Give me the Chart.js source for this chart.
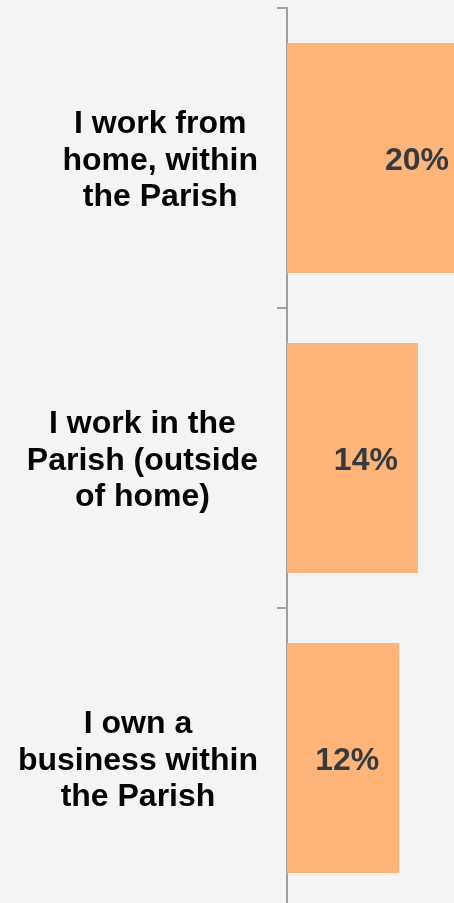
<!DOCTYPE html>
<html>
<head>
<meta charset="utf-8">
<script src="https://cdn.jsdelivr.net/npm/chart.js@4.4.1/dist/chart.umd.min.js"></script>
<style>
  html, body { margin: 0; padding: 0; background: #f4f4f4; overflow: hidden; }
  #wrap { width: 454px; height: 903px; overflow: hidden; }
</style>
</head>
<body>
<div id="wrap"><canvas id="myChart" width="474" height="910"></canvas></div>
<script>
const categories = [
  ['I work from', 'home, within', 'the Parish'],
  ['I work in the', 'Parish (outside', 'of home)'],
  ['I own a', 'business within', 'the Parish']
];
const values = [20, 14, 12];
const valueLabels = ['20%', '14%', '12%'];

const FONT = 'bold 32px "Liberation Sans", Arial, sans-serif';

// category labels: block right-aligned, lines centred in the block
const catLabels = {
  id: 'catLabels',
  afterDraw(chart) {
    const ctx = chart.ctx;
    const y = chart.scales.y;
    ctx.save();
    ctx.font = FONT;
    ctx.fillStyle = '#050505';
    ctx.textAlign = 'center';
    ctx.textBaseline = 'middle';
    const lh = 36.5;
    categories.forEach((lines, i) => {
      let widest = 0;
      lines.forEach(l => { widest = Math.max(widest, ctx.measureText(l).width); });
      const cx = 258 - widest / 2;
      const cy = y.getPixelForTick(i) + 3;
      lines.forEach((l, j) => {
        ctx.fillText(l, cx, cy + (j - (lines.length - 1) / 2) * lh);
      });
    });
    ctx.restore();
  }
};

const barLabels = {
  id: 'barLabels',
  afterDatasetsDraw(chart) {
    const ctx = chart.ctx;
    const meta = chart.getDatasetMeta(0);
    ctx.save();
    ctx.font = FONT;
    ctx.fillStyle = '#353a3f';
    ctx.textAlign = 'right';
    ctx.textBaseline = 'middle';
    meta.data.forEach((bar, i) => {
      // keep the label inside the visible window
      const x = Math.min(bar.x - 20, 449);
      ctx.fillText(valueLabels[i], x, bar.y + 3);
    });
    ctx.restore();
  }
};

new Chart(document.getElementById('myChart'), {
  type: 'bar',
  data: {
    labels: categories,
    datasets: [{
      data: values,
      backgroundColor: '#ffb47a',
      borderWidth: 0,
      categoryPercentage: 1,
      barPercentage: 0.767
    }]
  },
  options: {
    indexAxis: 'y',
    responsive: false,
    devicePixelRatio: 1,
    animation: false,
    layout: { padding: { top: 8, bottom: 2, left: 0, right: 0 } },
    plugins: { legend: { display: false }, tooltip: { enabled: false } },
    scales: {
      x: { display: false, min: 0, max: 20 },
      y: {
        afterFit(scale) { scale.width = 287; },
        ticks: { display: false },
        grid: {
          offset: true,
          drawOnChartArea: false,
          tickLength: 10,
          color: '#a0a0a0',
          lineWidth: 2
        },
        border: { color: '#a0a0a0', width: 2 }
      }
    }
  },
  plugins: [catLabels, barLabels]
});
</script>
</body>
</html>
